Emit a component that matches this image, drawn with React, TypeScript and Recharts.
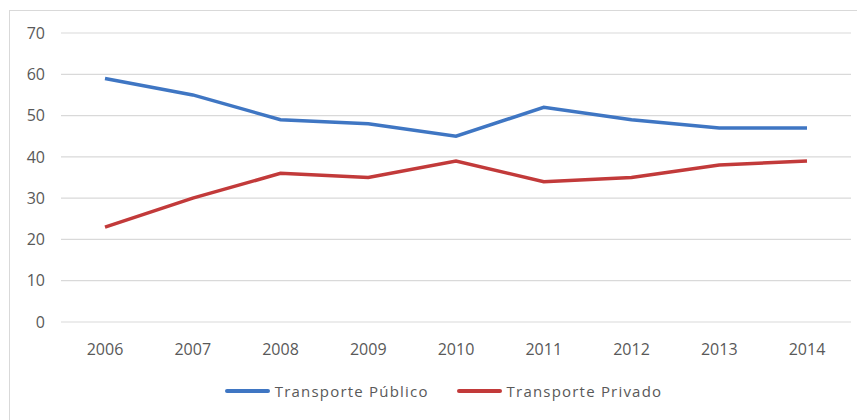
import { CartesianGrid, Legend, Line, LineChart, XAxis, YAxis } from 'recharts'

const YEARS = ['2006', '2007', '2008', '2009', '2010', '2011', '2012', '2013', '2014']
const PUBLICO = [59, 55, 49, 48, 45, 52, 49, 47, 47]
const PRIVADO = [23, 30, 36, 35, 39, 34, 35, 38, 39]
const Y_TICKS = [0, 10, 20, 30, 40, 50, 60, 70]

const SERIES = [
	{ key: 'publico', name: 'Transporte Público', color: '#3f76c3' },
	{ key: 'privado', name: 'Transporte Privado', color: '#c23a3a' },
]

const data = YEARS.map((year, i) => ({ year, publico: PUBLICO[i], privado: PRIVADO[i] }))

const FONT = "'Open Sans', 'Liberation Sans', sans-serif"

const LegendContent = () => (
	<div
		style={{
			display: 'flex',
			justifyContent: 'center',
			paddingLeft: 26,
			fontFamily: FONT,
			fontSize: 15,
			letterSpacing: 1.2,
			color: '#595959',
		}}
	>
		{SERIES.map((s, i) => (
			<div key={s.key} style={{ display: 'flex', alignItems: 'center', marginLeft: i ? 28 : 0 }}>
				<span style={{ display: 'inline-block', width: 45, height: 4, borderRadius: 2, background: s.color, marginRight: 5 }} />
				<span>{s.name}</span>
			</div>
		))}
	</div>
)

const App = () => {
	return (
		<div style={{ marginTop: 2, marginLeft: 1, width: 852, height: 420, border: '1px solid #d9d9d9', boxSizing: 'border-box' }}>
			<LineChart width={850} height={418} data={data} margin={{ top: 22, right: 9, left: 0, bottom: 57 }}>
				<CartesianGrid vertical={false} stroke='#d9d9d9' strokeWidth={1.2} />
				<XAxis
					dataKey='year'
					axisLine={false}
					tickLine={false}
					tickMargin={16}
					padding={{ left: 44, right: 44 }}
					tick={{ fill: '#595959', fontSize: 16, fontFamily: FONT }}
				/>
				<YAxis
					width={51}
					domain={[0, 70]}
					ticks={Y_TICKS}
					axisLine={false}
					tickLine={false}
					tickMargin={10}
					tick={{ fill: '#595959', fontSize: 16, fontFamily: FONT }}
				/>
				<Legend verticalAlign='bottom' wrapperStyle={{ bottom: 28 }} content={<LegendContent />} />
				{SERIES.map((s) => (
					<Line
						key={s.key}
						type='linear'
						dataKey={s.key}
						name={s.name}
						stroke={s.color}
						strokeWidth={3.5}
						dot={false}
						activeDot={false}
						isAnimationActive={false}
					/>
				))}
			</LineChart>
		</div>
	)
}

export default App
